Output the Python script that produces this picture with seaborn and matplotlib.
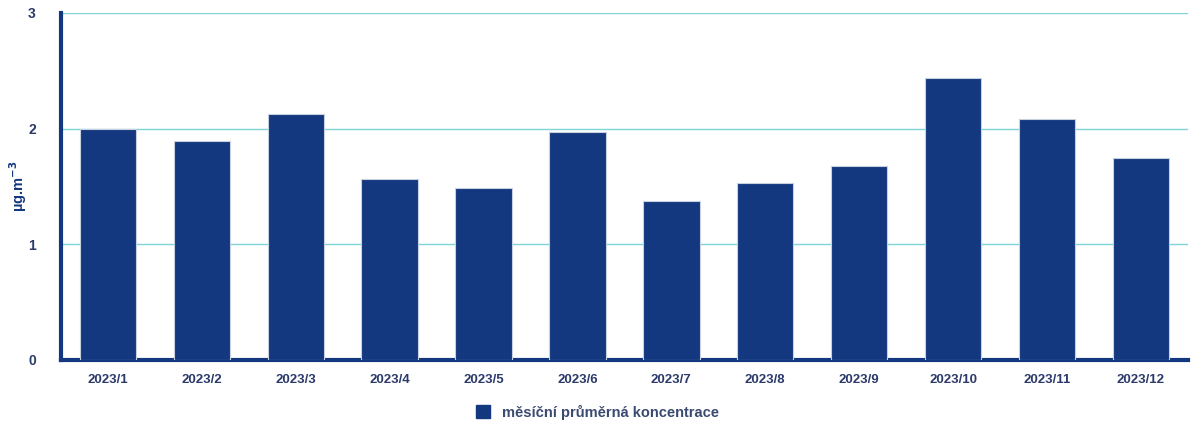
import matplotlib
matplotlib.use("Agg")
import matplotlib.pyplot as plt
import seaborn as sns
import pandas as pd
from matplotlib.patches import Patch

months = ["2023/1", "2023/2", "2023/3", "2023/4", "2023/5", "2023/6",
          "2023/7", "2023/8", "2023/9", "2023/10", "2023/11", "2023/12"]
values = [2.00, 1.89, 2.13, 1.56, 1.49, 1.97, 1.37, 1.53, 1.68, 2.44, 2.08, 1.75]
series_name = "měsíční průměrná koncentrace"
yticks = [0, 1, 2, 3]

sns.set_theme(style="white")
plt.rcParams['font.family'] = ['Liberation Sans', 'DejaVu Sans']

bar_color = "#14387f"
grid_color = "#7fd3d9"
text_color = "#2b3a6b"

df = pd.DataFrame({"month": months, "value": values})

fig = plt.figure(figsize=(11.95, 4.33), dpi=100)
ax = fig.add_axes([0.051, 0.169, 0.943, 0.801])

sns.barplot(data=df, x="month", y="value", color=bar_color, width=0.6,
            edgecolor="#c8d0e0", linewidth=0.8, saturation=1, ax=ax, zorder=3)

ax.set_ylim(0, 3)
ax.set_xlim(-0.5, len(months) - 0.5)
ax.set_yticks(yticks)
ax.yaxis.grid(True, color=grid_color, linewidth=1.0, zorder=0)
ax.set_axisbelow(True)

for s in ["top", "right"]:
    ax.spines[s].set_visible(False)
for s in ["left", "bottom"]:
    ax.spines[s].set_color(bar_color)
    ax.spines[s].set_linewidth(3)

ax.tick_params(axis="x", length=0, labelsize=9.5, labelcolor=text_color, pad=10)
ax.tick_params(axis="y", length=0, labelsize=10, labelcolor=text_color, pad=18)
for lbl in ax.get_xticklabels() + ax.get_yticklabels():
    lbl.set_fontweight("bold")

ax.set_xlabel("")
ax.set_ylabel(r"µg.m$^{\mathbf{-3}}$", color=bar_color, fontsize=10.5,
              fontweight="bold", va="center")
ax.yaxis.set_label_coords(-0.038, 0.5)

handles = [Patch(facecolor=bar_color, edgecolor=bar_color, label=series_name)]
fig.legend(handles=handles, loc="lower center", bbox_to_anchor=(0.5, 0.0),
           frameon=False, handlelength=1.0, handleheight=1.0,
           prop={"size": 10.5, "weight": "bold"}, labelcolor="#3a4a70")

fig.savefig("out.png", dpi=100)
